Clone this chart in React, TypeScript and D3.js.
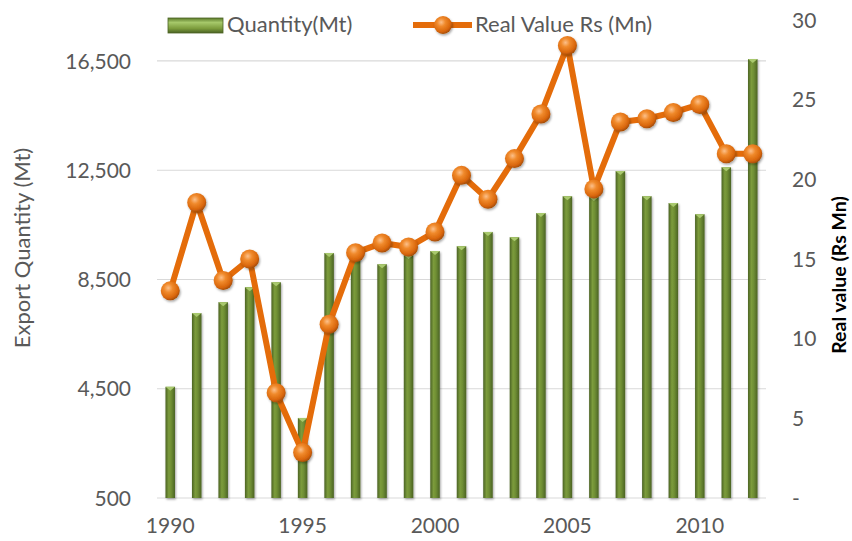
import React from "react";
import * as d3 from "d3";

const years = [1990,1991,1992,1993,1994,1995,1996,1997,1998,1999,2000,2001,2002,2003,2004,2005,2006,2007,2008,2009,2010,2011,2012];
const quantity = [4570,7270,7670,8220,8400,3430,9470,9300,9060,9400,9540,9720,10240,10050,10930,11550,11520,12470,11550,11300,10890,12610,16570];
const realValue = [13.0,18.55,13.65,15.0,6.6,2.85,10.9,15.4,16.0,15.75,16.7,20.25,18.75,21.3,24.1,28.4,19.4,23.6,23.8,24.2,24.7,21.6,21.6];
const leftTicks = [500,4500,8500,12500,16500];
const rightTicks = [0,5,10,15,20,25,30];
const yearLabels = [1990,1995,2000,2005,2010];

const W = 852, H = 541;
const plot = { left: 157, right: 766, top: 20, bottom: 498 };
const FONT = "Lato, 'Open Sans', sans-serif";
const GRAY = "#595959";

export default function App() {
  const x = d3.scaleBand<number>().domain(years).range([plot.left, plot.right]).padding(0);
  const yL = d3.scaleLinear().domain([500, 18000]).range([plot.bottom, plot.top]);
  const yR = d3.scaleLinear().domain([0, 30]).range([plot.bottom, plot.top]);
  const cx = (yr: number) => (x(yr) as number) + x.bandwidth() / 2;
  const barW = 9.5;
  const line = d3.line<number>().x((_, i) => cx(years[i])).y((v) => yR(v));
  const fmt = d3.format(",");

  return (
    <svg width={W} height={H} style={{ position: "absolute", left: 0, top: 0, background: "#fff" }}>
      <defs>
        <linearGradient id="barG" x1="0" x2="1" y1="0" y2="0">
          <stop offset="0" stopColor="#4b6324" />
          <stop offset="0.35" stopColor="#7c9c3c" />
          <stop offset="0.6" stopColor="#6f8e34" />
          <stop offset="1" stopColor="#4b6324" />
        </linearGradient>
        <radialGradient id="ballG" cx="0.4" cy="0.35" r="0.65">
          <stop offset="0" stopColor="#fcc08a" />
          <stop offset="0.35" stopColor="#f08a2c" />
          <stop offset="0.8" stopColor="#d9660b" />
          <stop offset="1" stopColor="#a84e06" />
        </radialGradient>
        <linearGradient id="legG" x1="0" x2="0" y1="0" y2="1">
          <stop offset="0" stopColor="#5b7a2a" />
          <stop offset="0.3" stopColor="#a6c86a" />
          <stop offset="0.7" stopColor="#7c9c3c" />
          <stop offset="1" stopColor="#4b6324" />
        </linearGradient>
        <filter id="sh" x="-50%" y="-50%" width="200%" height="200%">
          <feDropShadow dx="1" dy="1.5" stdDeviation="1.2" floodColor="#000" floodOpacity="0.35" />
        </filter>
      </defs>

      {leftTicks.map((t) => (
        <line key={t} x1={plot.left} x2={plot.right} y1={yL(t)} y2={yL(t)} stroke="#d9d9d9" strokeWidth={1.2} />
      ))}

      {quantity.map((q, i) => (
        <g key={years[i]} filter="url(#sh)">
          <rect x={cx(years[i]) - barW / 2} y={yL(q)} width={barW} height={plot.bottom - yL(q)} fill="url(#barG)" />
          <path d={`M${cx(years[i]) - barW / 2},${yL(q)} L${cx(years[i]) + barW / 2},${yL(q)} L${cx(years[i])},${yL(q) + 4} Z`} fill="#a9c96e" />
        </g>
      ))}

      <path d={line(realValue) || ""} fill="none" stroke="#e46c0a" strokeWidth={6} strokeLinejoin="round" />
      {realValue.map((v, i) => (
        <circle key={years[i]} cx={cx(years[i])} cy={yR(v)} r={9.5} fill="url(#ballG)" filter="url(#sh)" />
      ))}

      {leftTicks.map((t) => (
        <text key={t} x={131} y={yL(t)} dy="0.36em" textAnchor="end" fontFamily={FONT} fontSize={21} fill={GRAY}>
          {fmt(t)}
        </text>
      ))}
      {rightTicks.map((t) => (
        <text key={t} x={792} y={yR(t)} dy="0.36em" textAnchor="start" fontFamily={FONT} fontSize={21} fill={GRAY}>
          {t === 0 ? "-" : t}
        </text>
      ))}
      {yearLabels.map((yr) => (
        <text key={yr} x={cx(yr)} y={533} textAnchor="middle" fontFamily={FONT} fontSize={21} fill={GRAY}>
          {yr}
        </text>
      ))}

      <text transform={`translate(30,248) rotate(-90)`} textAnchor="middle" fontFamily={FONT} fontSize={22} fill={GRAY}>
        Export Quantity (Mt)
      </text>
      <text transform={`translate(846,275) rotate(-90)`} textAnchor="middle" fontFamily={FONT} fontSize={19.5} fontWeight="bold" fill="#000">
        Real value (Rs Mn)
      </text>

      <rect x={168} y={18} width={55} height={15} fill="url(#legG)" stroke="#4b6324" strokeWidth={0.8} />
      <text x={227} y={32} fontFamily={FONT} fontSize={22} fill={GRAY}>Quantity(Mt)</text>
      <line x1={413} x2={472} y1={25} y2={25} stroke="#e46c0a" strokeWidth={6} />
      <circle cx={443} cy={25} r={9} fill="url(#ballG)" filter="url(#sh)" />
      <text x={475} y={32} fontFamily={FONT} fontSize={22} fill={GRAY}>Real Value Rs (Mn)</text>
    </svg>
  );
}
